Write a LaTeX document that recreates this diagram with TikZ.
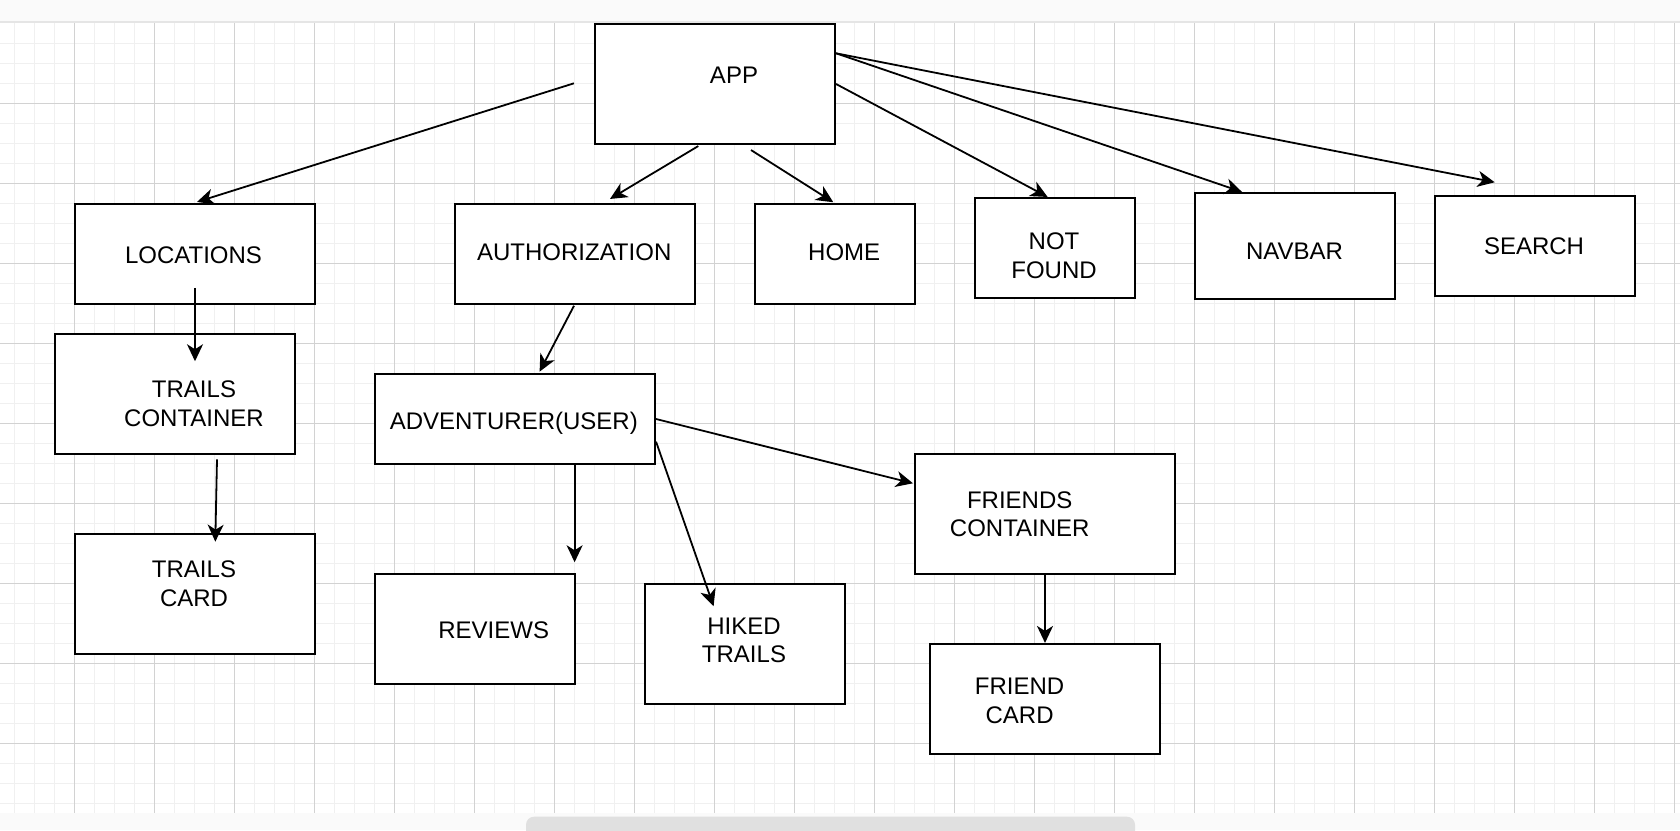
\documentclass[tikz,border=0pt]{standalone}
\usepackage{fontspec}
\setmainfont{Liberation Sans}
\usetikzlibrary{arrows.meta,calc}
\definecolor{barc}{HTML}{FAFAFA}
\definecolor{minorc}{HTML}{F0F0F0}
\definecolor{majorc}{HTML}{D2D2D2}
\definecolor{scrollc}{HTML}{E0E0E0}
\begin{document}
\begin{tikzpicture}[x=1pt,y=-1pt,
  box/.style={draw=black, fill=white, line width=2.1pt, inner sep=0pt, rectangle},
  lbl/.style={anchor=north, inner sep=0pt, align=center, font=\fontsize{24}{28.5}\selectfont},
  arr/.style={draw=black, line width=1.8pt, -{Stealth[length=17pt,width=16pt,inset=5pt]}},
]
\useasboundingbox (0,0) rectangle (1680,830);
\begin{scope}
\clip (0,0) rectangle (1680,830);
\fill[white] (0,0) rectangle (1680,830);
% minor grid
\foreach \i in {0,...,83} { \draw[minorc, line width=1.5pt] ({14.5+20*\i},23.3) -- ({14.5+20*\i},813.3); }
\foreach \j in {1,...,39} { \draw[minorc, line width=1.5pt] (0,{23.3+20*\j}) -- (1680,{23.3+20*\j}); }
% major grid
\foreach \i in {0,...,20} { \draw[majorc, line width=1pt] ({74.5+80*\i},23.3) -- ({74.5+80*\i},813.3); }
\foreach \j in {1,...,9} { \draw[majorc, line width=1pt] (0,{23.3+80*\j}) -- (1680,{23.3+80*\j}); }
% top bar and bottom strip
\fill[barc] (0,0) rectangle (1680,21);
\draw[black!10, line width=2pt] (0,22) -- (1680,22);
\fill[barc] (0,813.3) rectangle (1680,830);
\fill[scrollc, rounded corners=8pt] (526,816.7) rectangle (1135,850);
\end{scope}

% boxes
\node[box, minimum width=240pt, minimum height=120pt] (app) at (715,84) {};
\node[box, minimum width=240pt, minimum height=100pt] (loc) at (195,254) {};
\node[box, minimum width=240pt, minimum height=100pt] (auth) at (575,254) {};
\node[box, minimum width=160pt, minimum height=100pt] (home) at (835,254) {};
\node[box, minimum width=160pt, minimum height=100pt] (nf) at (1055,248) {};
\node[box, minimum width=200pt, minimum height=106pt] (nav) at (1295,246) {};
\node[box, minimum width=200pt, minimum height=100pt] (search) at (1535,246) {};
\node[box, minimum width=240pt, minimum height=120pt] (tc) at (175,394) {};
\node[box, minimum width=240pt, minimum height=120pt] (tcard) at (195,594) {};
\node[box, minimum width=280pt, minimum height=90pt] (adv) at (515,419) {};
\node[box, minimum width=200pt, minimum height=110pt] (rev) at (475,629) {};
\node[box, minimum width=200pt, minimum height=120pt] (hiked) at (745,644) {};
\node[box, minimum width=260pt, minimum height=120pt] (fc) at (1045,514) {};
\node[box, minimum width=230pt, minimum height=110pt] (fcard) at (1045,699) {};

% labels
\node[lbl] (appT) at (734,66.3) {APP};
\node[lbl] (locT) at (193.5,247) {LOCATIONS};
\node[lbl] (authT) at (574.2,244) {AUTHORIZATION};
\node[lbl] (homeT) at (844.2,244) {HOME};
\node[lbl] (nfT) at (1054,233) {NOT\\FOUND};
\node[lbl] (navT) at (1294.5,243) {NAVBAR};
\node[lbl] (searchT) at (1534,238) {SEARCH};
\node[lbl] (tcT) at (194,380.6) {TRAILS\\CONTAINER};
\node[lbl] (tcardT) at (194,560.6) {TRAILS\\CARD};
\node[lbl] (advT) at (513.8,411.9) {ADVENTURER(USER)};
\node[lbl] (revT) at (493.7,622) {REVIEWS};
\node[lbl] (hikedT) at (744,617.3) {HIKED\\TRAILS};
\node[lbl] (fcT) at (1019.7,491.3) {FRIENDS\\CONTAINER};
\node[lbl] (fcardT) at (1019.6,678) {FRIEND\\CARD};

% connectors
\draw[arr] ($(app.west)+(-20,-0.7)$) -- ($(loc.north)+(2,-1)$);
\draw[arr] ($(app.south)+(-16.7,1)$) -- ($(auth.north)+(35,-4)$);
\draw[arr] ($(app.south)+(36,5)$) -- ($(home.north)+(-1.7,-0.7)$);
\draw[arr] (app.east) -- ($(nf.north)+(-7.4,0)$);
\draw[arr] ($(app.east)+(0,-30.7)$) -- ($(nav.north)+(-53,0)$);
\draw[arr] ($(app.east)+(0,-30.7)$) -- ($(search.north)+(-40.3,-12.7)$);
\draw[arr] ($(loc.south)+(0,-17.3)$) -- ($(tc.north)+(20,28.3)$);
\draw[arr] ($(tc.south)+(42,4.3)$) -- ($(tcard.north)+(20.3,8.7)$);
\draw[arr] ($(auth.south)+(-1,0.7)$) -- ($(adv.north)+(24.6,-1.3)$);
\draw[arr] ($(adv.south)+(59.6,0)$) -- ($(rev.north)+(99.6,-10.7)$);
\draw[arr] ($(adv.east)+(0,22.7)$) -- ($(hiked.north)+(-31.4,23.3)$);
\draw[arr] (adv.east) -- ($(fc.west)+(-1,-30.7)$);
\draw[arr] (fc.south) -- (fcard.north);
\end{tikzpicture}
\end{document}
